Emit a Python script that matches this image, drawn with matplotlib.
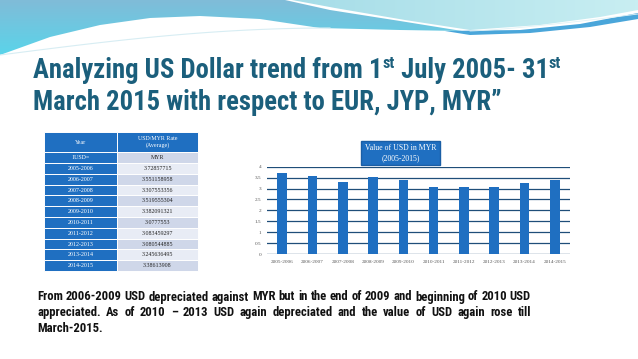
import matplotlib
matplotlib.use("Agg")
import matplotlib.pyplot as plt
import numpy as np
from matplotlib.patches import Rectangle, Polygon

years = ["2005-2006", "2006-2007", "2007-2008", "2008-2009", "2009-2010",
         "2010-2011", "2011-2012", "2012-2013", "2013-2014", "2014-2015"]
rates = [3.72857715, 3.551158958, 3.307553356, 3.519555304, 3.382091321,
         3.0777553, 3.083459297, 3.080544885, 3.245636495, 3.38613908]
table_rates = ["3.72857715", "3.551158958", "3.307553356", "3.519555304", "3.382091321",
               "3.0777553", "3.083459297", "3.080544885", "3.245636495", "3.38613908"]
chart_title = "Value of USD in MYR\n(2005-2015)"
yticks = [0, 0.5, 1, 1.5, 2, 2.5, 3, 3.5, 4]
ytick_labels = ["0", "0.5", "1", "1.5", "2", "2.5", "3", "3.5", "4"]
body = ["From 2006-2009 USD depreciated against MYR but in the end of 2009 and beginning of 2010 USD",
        "appreciated. As of 2010 \u2013 2013 USD again depreciated and the value of USD again rose till",
        "March-2015."]

W, H = 638, 359
fig = plt.figure(figsize=(W / 100, H / 100), dpi=100)
fig.patch.set_facecolor("white")
renderer = fig.canvas.get_renderer()
SANS = ["Roboto Condensed", "Roboto", "DejaVu Sans"]

def fx(px):
    return px / W

def fy(py):
    return 1 - py / H

def text_w(s, size, weight="bold", family=SANS):
    t = fig.text(0, 0, s, fontsize=size, fontweight=weight, family=family)
    w = t.get_window_extent(renderer).width
    t.remove()
    return w

# ---------- background decoration ----------
bg = fig.add_axes([0, 0, 1, 1], zorder=0)
bg.set_xlim(0, W)
bg.set_ylim(H, 0)
bg.axis("off")

def grad_poly(pts, c_top, c_bot, horiz=False):
    poly = Polygon(pts, closed=True, facecolor="none", edgecolor="none")
    bg.add_patch(poly)
    c1 = np.array(matplotlib.colors.to_rgb(c_top))
    c2 = np.array(matplotlib.colors.to_rgb(c_bot))
    n = 64
    t = np.linspace(0, 1, n)
    if horiz:
        img = (c1[None, None, :] * (1 - t)[None, :, None] + c2[None, None, :] * t[None, :, None])
        img = np.repeat(img, 2, axis=0)
    else:
        img = (c1[None, None, :] * (1 - t)[:, None, None] + c2[None, None, :] * t[:, None, None])
        img = np.repeat(img, 2, axis=1)
    xs = [p[0] for p in pts]
    ys = [p[1] for p in pts]
    im = bg.imshow(img, extent=(min(xs), max(xs), max(ys), min(ys)), aspect="auto",
                   interpolation="bilinear", zorder=1)
    im.set_clip_path(poly)

left_region = [(0, 0), (285, 0), (330, 10), (400, 21), (462, 31),
               (400, 30), (320, 28), (260, 19), (200, 16), (150, 18),
               (100, 25), (50, 37), (0, 55)]
grad_poly(left_region, "#80bcd8", "#5ad4ea")
right_region = [(292, 0), (638, 0), (638, 10), (600, 17), (540, 25), (470, 30),
                (405, 20), (335, 8)]
grad_poly(right_region, "#a6dde8", "#c8eef2", horiz=True)
band = [(445, 31), (520, 30), (580, 24), (638, 13), (638, 19), (590, 27), (530, 33), (470, 35)]
bg.add_patch(Polygon(band, closed=True, facecolor="#4aa6da", edgecolor="none", zorder=2))
# thin highlight lines
lx = np.linspace(0, 330, 60)
bg.plot(lx, 55 - 27 * np.sin(lx / 330 * np.pi / 2), color="#d7edf3", lw=0.8, zorder=2)
rx = np.linspace(470, 638, 40)
bg.plot(rx, 31 - 17 * ((rx - 470) / 168) ** 1.3, color="#e2f3f6", lw=0.6, zorder=3)

# ---------- title ----------
tcol = "#1b5f7c"
p1, sup, p2 = "Analyzing US Dollar trend from 1", "st", " July 2005- 31"
ref = 10.0
w_total = (text_w(p1, ref) + text_w(p2, ref) + 2 * text_w(sup, ref * 0.6))
fs = ref * (527 / w_total)
x = 33
y1 = 70
for part, small in [(p1, False), (sup, True), (p2, False), (sup, True)]:
    size = fs * 0.6 if small else fs
    yy = y1 - (7 if small else 0)
    fig.text(fx(x), fy(yy), part, fontsize=size, fontweight="bold", color=tcol,
             family=SANS, ha="left", va="center")
    x += text_w(part, size)
fig.text(fx(33), fy(103), "March 2015 with respect to EUR, JYP, MYR\u201d",
         fontsize=fs, fontweight="bold", color=tcol, family=SANS, ha="left", va="center")

# ---------- table ----------
dark = "#1f6fc1"
light1 = "#cfd7e9"
light2 = "#e8ecf5"
tx0, tx1, tmid = 44, 198, 117
tab = fig.add_axes([0, 0, 1, 1], zorder=2)
tab.set_xlim(0, W)
tab.set_ylim(H, 0)
tab.axis("off")
tab.patch.set_alpha(0)
rows = [(132, 152, "Year", "USD/MYR Rate\n(Average)", dark, "white")]
rows.append((152, 163, "1USD=", "MYR", light1, "#222222"))
rh = (271 - 163) / 10
for i, (yr, r) in enumerate(zip(years, table_rates)):
    y0 = 163 + i * rh
    rows.append((y0, y0 + rh, yr, r, light2 if i % 2 == 0 else light1, "#222222"))
for (y0, y1_, ltxt, rtxt, rc, rcol) in rows:
    tab.add_patch(Rectangle((tx0, y0), tmid - tx0, y1_ - y0, facecolor=dark, edgecolor="white", lw=0.7))
    tab.add_patch(Rectangle((tmid, y0), tx1 - tmid, y1_ - y0, facecolor=rc, edgecolor="white", lw=0.7))
    tab.text((tx0 + tmid) / 2, (y0 + y1_) / 2, ltxt, color="white", fontsize=4.3,
             family="Liberation Serif", ha="center", va="center")
    tab.text((tmid + tx1) / 2, (y0 + y1_) / 2, rtxt, color=rcol, fontsize=4.3,
             family="Liberation Serif", ha="center", va="center", linespacing=1.2)

# ---------- bar chart ----------
ax = fig.add_axes([fx(267), fy(254), fx(570) - fx(267), fy(166.7) - fy(254)], zorder=3)
ax.patch.set_alpha(0)
xpos = np.arange(len(years))
ax.bar(xpos, rates, width=0.32, color="#1f6fc1", zorder=3)
ax.set_xlim(-0.5, len(years) - 0.5)
ax.set_ylim(0, 4)
ax.set_yticks(yticks)
ax.set_yticklabels(ytick_labels, fontsize=3.8, color="#555555", family="Liberation Serif")
ax.set_xticks(xpos)
ax.set_xticklabels(years, fontsize=3.8, color="#555555", family="Liberation Serif")
ax.tick_params(length=0, pad=4)
ax.grid(axis="y", color="#1f4e79", lw=0.9, zorder=1)
for s in ax.spines.values():
    s.set_visible(False)
ax.axhline(0, color="#9aa6b5", lw=0.8, zorder=2)

fig.text(fx(400.5), fy(153), chart_title, fontsize=5.6, color="white", family="Liberation Serif",
         ha="center", va="center", linespacing=1.3, zorder=5,
         bbox=dict(boxstyle="square,pad=0.45", facecolor="#1f6fc1", edgecolor="#1a5ea5"))

# ---------- body text (justified) ----------
bx0, bx1 = 37, 531
ref_w = text_w(body[0], 10)
bfs = 10 * (bx1 - bx0) / ref_w
for i, line in enumerate(body):
    yy = fy(297 + i * 15.5)
    if i < 2:
        words = line.split(" ")
        widths = [text_w(wd, bfs) for wd in words]
        gap = ((bx1 - bx0) - sum(widths)) / (len(words) - 1)
        xx = bx0
        for wd, ww in zip(words, widths):
            fig.text(fx(xx), yy, wd, fontsize=bfs, fontweight="bold", color="#111111",
                     family=SANS, ha="left", va="center")
            xx += ww + gap
    else:
        fig.text(fx(bx0), yy, line, fontsize=bfs, fontweight="bold", color="#111111",
                 family=SANS, ha="left", va="center")

fig.savefig("out.png", dpi=100)
